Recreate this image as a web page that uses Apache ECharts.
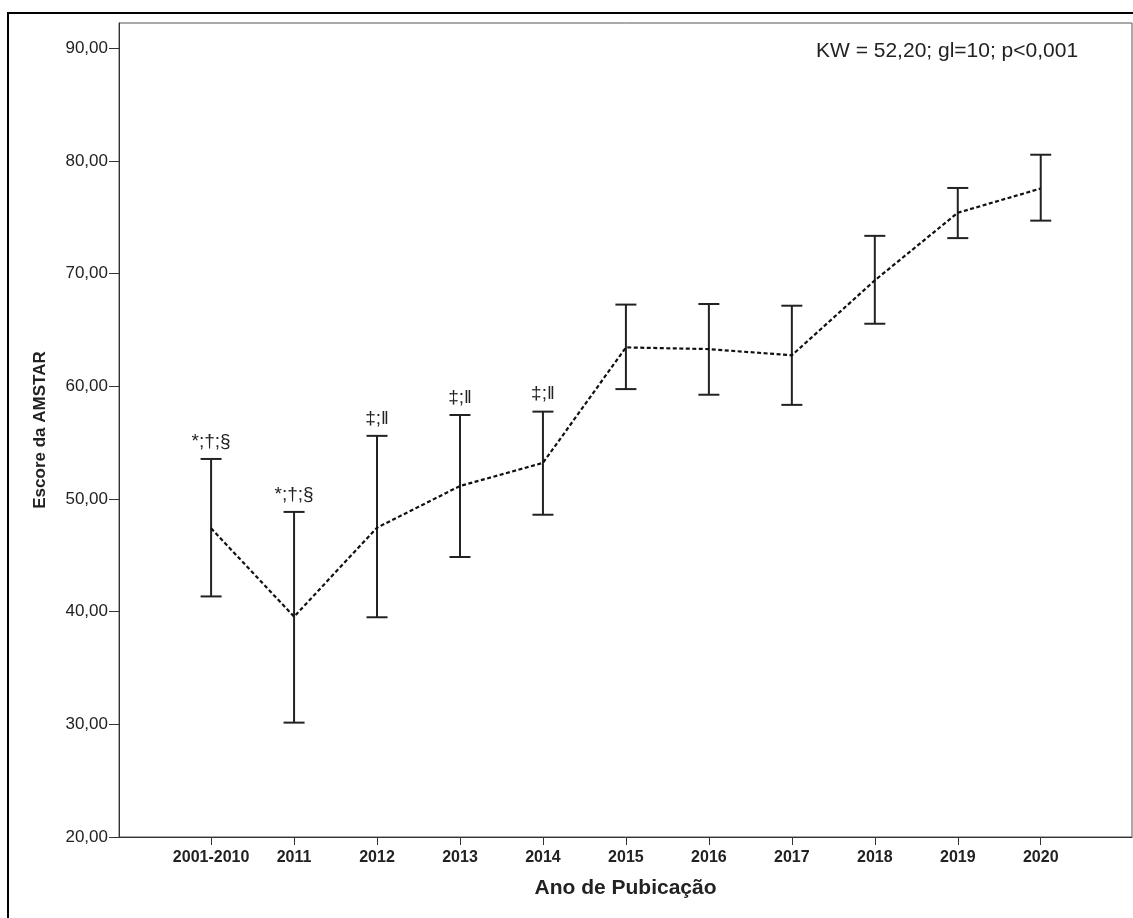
<!DOCTYPE html>
<html>
<head>
<meta charset="utf-8">
<script src="https://cdn.jsdelivr.net/npm/echarts@6/dist/echarts.min.js"></script>
<style>
html,body{margin:0;padding:0;background:#fff;}
#chart{width:1133px;height:918px;}
</style>
</head>
<body>
<div id="chart"></div>
<script>
// ---- data ----
const categories = ['2001-2010','2011','2012','2013','2014','2015','2016','2017','2018','2019','2020'];
const meanValues  = [47.4, 39.55, 47.45, 51.15, 53.2, 63.45, 63.3, 62.75, 69.4, 75.4, 77.55];
const upperValues = [53.55, 48.85, 55.6, 57.45, 57.75, 67.25, 67.3, 67.15, 73.35, 77.6, 80.55];
const lowerValues = [41.35, 30.15, 39.5, 44.85, 48.6, 59.75, 59.25, 58.35, 65.55, 73.15, 74.7];
const annotations = ['*;\u2020;\u00a7','*;\u2020;\u00a7','\u2021;\u2016','\u2021;\u2016','\u2021;\u2016','','','','','',''];
const yTickValues = [20,30,40,50,60,70,80,90];
const xTickValues = [0,1,2,3,4,5,6,7,8,9,10];
const statText = 'KW = 52,20; gl=10; p<0,001';
const xTitle = 'Ano de Pubicação';
const yTitle = 'Escore da AMSTAR';

const regular = "'Liberation Sans',Arial,sans-serif";

const chart = echarts.init(document.getElementById('chart'), null, {renderer:'canvas'});

const option = {
  animation: false,
  backgroundColor: '#fff',
  grid: {left: 119, top: 23, right: 1, bottom: 81, show: true, borderColor: '#555', borderWidth: 1},
  graphic: [
    {type:'rect', shape:{x:8, y:13, width:1400, height:1200}, style:{fill:null, stroke:'#000', lineWidth:2}, z: 100, silent:true},
    {type:'text', left: 816, top: 41, style:{text: statText, font: '21px ' + regular, fill:'#222'}}
  ],
  xAxis: {
    type: 'value',
    min: -1.11, max: 11.1,
    name: xTitle, nameLocation: 'middle', nameGap: 41,
    nameTextStyle: {fontFamily: regular, fontSize: 21, fontWeight: 'bold', color:'#222'},
    splitLine: {show:false},
    axisLine: {show:true, onZero:false, lineStyle:{color:'#333', width:1}},
    axisTick: {show:true, length:8, customValues: xTickValues, lineStyle:{color:'#333'}},
    axisLabel: {customValues: xTickValues, margin: 13, fontFamily: regular, fontWeight:'bold', fontSize: 16, color:'#222',
      formatter: v => categories[Math.round(v)] || ''}
  },
  yAxis: {
    type: 'value',
    min: 20, max: 92.24,
    name: yTitle, nameLocation: 'middle', nameGap: 70,
    nameTextStyle: {fontFamily: regular, fontSize: 17, fontWeight: 'bold', color:'#222'},
    splitLine: {show:false},
    axisLine: {show:true, onZero:false, lineStyle:{color:'#333', width:1}},
    axisTick: {show:true, length:10, customValues: yTickValues, lineStyle:{color:'#333'}},
    axisLabel: {customValues: yTickValues, margin: 11, fontFamily: regular, fontSize: 17, color:'#222',
      formatter: v => v.toFixed(2).replace('.', ',')}
  },
  series: [
    {
      type: 'line',
      data: categories.map((c, i) => [i, meanValues[i]]),
      symbol: 'none',
      lineStyle: {color:'#111', width: 2.2, type: [4, 2.5]},
      z: 4
    },
    {
      type: 'custom',
      data: categories.map((c, i) => [i, lowerValues[i], upperValues[i]]),
      encode: {x: 0, y: [1, 2]},
      z: 3,
      renderItem: function (params, api) {
        const x = api.value(0);
        const lo = api.coord([x, api.value(1)]);
        const hi = api.coord([x, api.value(2)]);
        const half = 10.5;
        const st = {stroke:'#222', lineWidth: 2};
        const children = [
          {type:'line', shape:{x1:lo[0], y1:lo[1], x2:hi[0], y2:hi[1]}, style: st},
          {type:'line', shape:{x1:hi[0]-half, y1:hi[1], x2:hi[0]+half, y2:hi[1]}, style: st},
          {type:'line', shape:{x1:lo[0]-half, y1:lo[1], x2:lo[0]+half, y2:lo[1]}, style: st}
        ];
        const ann = annotations[params.dataIndex];
        if (ann) {
          children.push({type:'text', style:{text: ann, x: hi[0], y: hi[1] - 8, align:'center', verticalAlign:'bottom',
            fontFamily: regular, fontSize: 19, fill:'#222'}});
        }
        return {type:'group', children: children};
      }
    }
  ]
};
chart.setOption(option);
</script>
</body>
</html>
